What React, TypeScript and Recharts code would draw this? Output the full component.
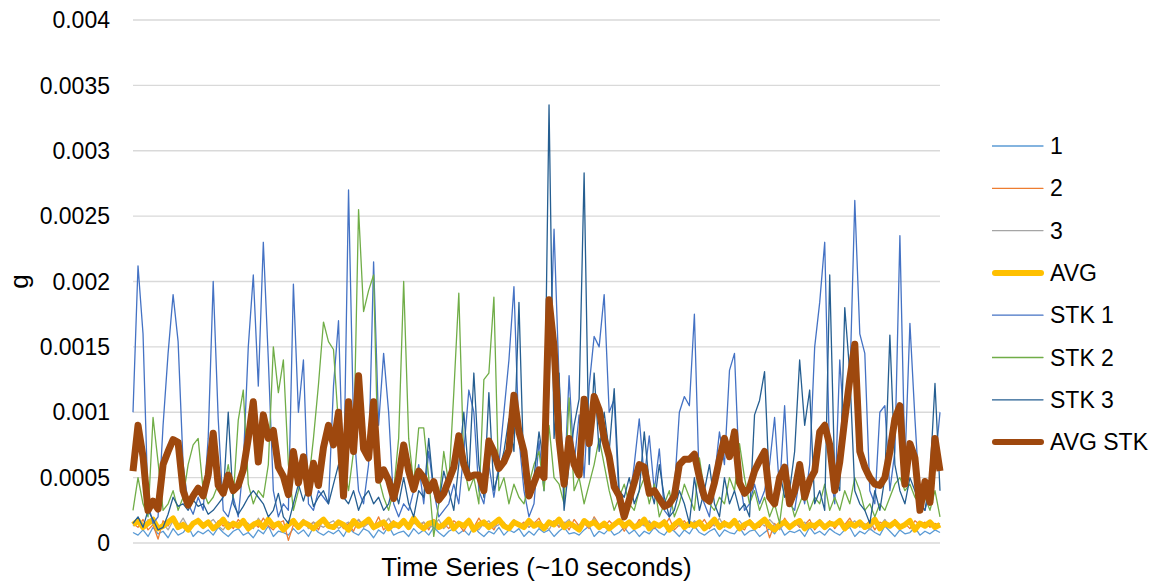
import React from "react";
import {
  LineChart,
  Line,
  XAxis,
  YAxis,
  CartesianGrid,
  Legend,
} from "recharts";

const FONT = '"Liberation Sans", Arial, sans-serif';

// sensor channels (g), one reading per sample, ~10 s window
const SERIES_1 = [
  0.00008, 0.00006, 0.0001, 0.00005, 0.00012, 0.00007, 0.00009, 0.00004, 0.00011, 0.00006, 0.00008, 0.00013, 0.00005, 0.00009, 0.00007, 0.0001, 0.00006, 0.00012, 0.00008, 0.00005,
  0.00009, 0.00011, 0.00006, 0.00008, 0.00004, 0.0001, 0.00007, 0.00013, 0.00005, 0.00009, 0.00008, 0.00006, 0.00011, 0.00007, 0.0001, 0.00005, 0.00012, 0.00008, 0.00006, 0.00009,
  0.00007, 0.0001, 0.00005, 0.00012, 0.00008, 0.00006, 0.00011, 0.00009, 0.00004, 0.0001, 0.00007, 0.00013, 0.00006, 0.00008, 0.00009, 0.00005, 0.00011, 0.00007, 0.0001, 0.00006,
  0.00012, 0.00008, 0.00005, 0.00009, 0.00011, 0.00007, 0.0001, 0.00006, 0.00013, 0.00008, 0.00005, 0.00009, 0.00007, 0.00012, 0.00006, 0.0001, 0.00008, 0.00011, 0.00005, 0.00009,
  0.00006, 0.00011, 0.00008, 0.0001, 0.00005, 0.00009, 0.00012, 0.00007, 0.00008, 0.00006, 0.0001, 0.00013, 0.00005, 0.00009, 0.00007, 0.00011, 0.00006, 0.00008, 0.00012, 0.00007,
  0.0001, 0.00005, 0.00009, 0.00007, 0.00012, 0.00008, 0.00006, 0.00011, 0.00009, 0.00005, 0.0001, 0.00007, 0.00013, 0.00008, 0.00006, 0.00009, 0.00011, 0.00005, 0.0001, 0.00008,
  0.00007, 0.00012, 0.00006, 0.00009, 0.0001, 0.00005, 0.00008, 0.00011, 0.00007, 0.00013, 0.00006, 0.00009, 0.00008, 0.0001, 0.00005, 0.00012, 0.00007, 0.00009, 0.00006, 0.00011,
  0.00008, 0.00006, 0.0001, 0.00012, 0.00005, 0.00009, 0.00007, 0.00011, 0.00008, 0.00006, 0.00013, 0.00009, 0.00005, 0.0001, 0.00007, 0.00008, 0.00012, 0.00006, 0.00009, 0.00007,
  0.0001, 0.00008,
];

const SERIES_2 = [
  0.00015, 0.00012, 0.00018, 0.0001, 0.00014, 0.00003, 0.00017, 0.00013, 0.0002, 0.00011, 0.00016, 0.00009, 0.00014, 0.00019, 0.00012, 0.00015, 0.0001, 0.00017, 0.00013, 0.00016,
  0.00011, 0.00018, 0.00014, 0.00009, 0.00016, 0.00012, 0.00019, 0.00013, 0.0001, 0.00015, 0.00017, 0.00002, 0.00014, 0.00011, 0.00018, 0.00013, 0.00016, 0.0001, 0.00019, 0.00012,
  0.00014, 0.00017, 0.00011, 0.00015, 0.00009, 0.00018, 0.00013, 0.00016, 0.00012, 0.0002, 0.0001, 0.00014, 0.00017, 0.00011, 0.00015, 0.00013, 0.00019, 0.00012, 0.00016, 0.0001,
  0.00018, 0.00013, 0.00015, 0.00011, 0.00017, 0.00014, 0.00009, 0.00016, 0.00012, 0.00019, 0.00013, 0.00015, 0.0001, 0.00018, 0.00014, 0.00011, 0.00017, 0.00013, 0.00016, 0.00012,
  0.00015, 0.00019, 0.00011, 0.00014, 0.00017, 0.00012, 0.00016, 0.0001, 0.00018, 0.00013, 0.00015, 0.00011, 0.0002, 0.00014, 0.00012, 0.00017, 0.00013, 0.00016, 0.00009, 0.00015,
  0.00012, 0.00018, 0.00014, 0.00016, 0.00011, 0.00015, 0.00013, 0.00019, 0.0001, 0.00014, 0.00017, 0.00012, 0.00016, 0.00013, 0.00018, 0.00011, 0.00015, 0.00014, 0.00017, 0.00012,
  0.00016, 0.00013, 0.0001, 0.00018, 0.00014, 0.00012, 0.00017, 0.00004, 0.00015, 0.00011, 0.00019, 0.00013, 0.00016, 0.00012, 0.00014, 0.00018, 0.0001, 0.00015, 0.00013, 0.00017,
  0.00011, 0.00016, 0.00014, 0.00019, 0.00012, 0.00015, 0.00013, 0.00017, 0.0001, 0.00016, 0.00014, 0.00012, 0.00018, 0.00013, 0.00015, 0.00011, 0.00017, 0.00014, 0.00016, 0.00012,
  0.00015, 0.00013,
];

const SERIES_3 = [
  0.00013, 0.00016, 0.00011, 0.00018, 0.00014, 0.00012, 0.00015, 0.0001, 0.00017, 0.00013, 0.00019, 0.00012, 0.00014, 0.00016, 0.00011, 0.00015, 0.00018, 0.00013, 0.0001, 0.00016,
  0.00014, 0.00012, 0.00017, 0.00015, 0.00011, 0.00019, 0.00013, 0.00016, 0.00012, 0.00014, 0.0001, 0.00017, 0.00015, 0.00013, 0.00018, 0.00011, 0.00016, 0.00014, 0.00012, 0.00015,
  0.00017, 0.00011, 0.00014, 0.00016, 0.00013, 0.00018, 0.00012, 0.00015, 0.0001, 0.00016, 0.00014, 0.00019, 0.00012, 0.00013, 0.00017, 0.00011, 0.00015, 0.00014, 0.00016, 0.00012,
  0.00013, 0.00018, 0.00011, 0.00015, 0.00014, 0.00016, 0.00012, 0.00019, 0.00013, 0.0001, 0.00015, 0.00017, 0.00012, 0.00014, 0.00016, 0.00011, 0.00018, 0.00013, 0.00015, 0.00012,
  0.00016, 0.00012, 0.00014, 0.0001, 0.00017, 0.00013, 0.00015, 0.00018, 0.00011, 0.00014, 0.00016, 0.00012, 0.00019, 0.00013, 0.00015, 0.00011, 0.00014, 0.00017, 0.00012, 0.00016,
  0.00011, 0.00015, 0.00013, 0.00017, 0.00012, 0.00014, 0.00018, 0.0001, 0.00016, 0.00013, 0.00015, 0.00012, 0.00017, 0.00014, 0.00011, 0.00016, 0.00013, 0.00019, 0.00012, 0.00015,
  0.00014, 0.00017, 0.00012, 0.00015, 0.00011, 0.00016, 0.00013, 0.00018, 0.00014, 0.0001, 0.00015, 0.00012, 0.00017, 0.00013, 0.00016, 0.00011, 0.00014, 0.00018, 0.00012, 0.00015,
  0.00013, 0.00016, 0.00011, 0.00014, 0.00017, 0.00012, 0.00015, 0.0001, 0.00016, 0.00013, 0.00018, 0.00012, 0.00014, 0.00011, 0.00015, 0.00017, 0.00013, 0.00016, 0.00012, 0.00014,
  0.00013, 0.00015,
];

const AVG = [
  0.00014, 0.00017, 0.00012, 0.00015, 0.00018, 0.00011, 0.00013, 0.00016, 0.00019, 0.00012, 0.00014, 0.0001, 0.00015, 0.00017, 0.00013, 0.00016, 0.00011, 0.00014, 0.00018, 0.00012,
  0.00015, 0.00013, 0.00017, 0.00011, 0.00014, 0.00016, 0.00012, 0.00018, 0.00013, 0.00015, 0.0001, 0.00014, 0.00017, 0.00012, 0.00016, 0.00014, 0.00011, 0.00015, 0.00018, 0.00013,
  0.00012, 0.00016, 0.00014, 0.0001, 0.00017, 0.00013, 0.00015, 0.00018, 0.00012, 0.00014, 0.00016, 0.00011, 0.00015, 0.00013, 0.00017, 0.00012, 0.00019, 0.00014, 0.00011, 0.00015,
  0.00016, 0.00012, 0.00014, 0.00018, 0.00011, 0.00015, 0.00013, 0.00017, 0.0001, 0.00014, 0.00016, 0.00012, 0.00015, 0.00018, 0.00013, 0.00011, 0.00016, 0.00014, 0.00012, 0.00017,
  0.00013, 0.00015, 0.00011, 0.00016, 0.00014, 0.00018, 0.00012, 0.00015, 0.00013, 0.0001, 0.00017, 0.00014, 0.00016, 0.00012, 0.00015, 0.00011, 0.00014, 0.00017, 0.00013, 0.00016,
  0.00012, 0.00014, 0.00018, 0.00011, 0.00015, 0.00013, 0.00016, 0.0001, 0.00014, 0.00017, 0.00012, 0.00015, 0.00013, 0.00016, 0.00011, 0.00014, 0.00018, 0.00012, 0.00015, 0.00013,
  0.00017, 0.00011, 0.00014, 0.00016, 0.00012, 0.00015, 0.00018, 0.00013, 0.0001, 0.00014, 0.00016, 0.00012, 0.00015, 0.00017, 0.00011, 0.00014, 0.00013, 0.00016, 0.00012, 0.00015,
  0.00014, 0.00017, 0.00011, 0.00015, 0.00013, 0.00016, 0.00012, 0.00014, 0.00018, 0.00011, 0.00015, 0.00013, 0.00016, 0.00012, 0.00014, 0.00017, 0.0001, 0.00015, 0.00013, 0.00016,
  0.00012, 0.00014,
];

const STK_1 = [
  0.001, 0.00212, 0.0016, 0.0003, 0.00015, 0.0002, 0.0009, 0.00145, 0.0019, 0.00154,
  0.0006, 0.0003, 0.00022, 0.00035, 0.00025, 0.0008, 0.002, 0.00095, 0.00025, 0.0002,
  0.00035, 0.0002, 0.0006, 0.0015, 0.00205, 0.0012, 0.0023, 0.0014, 0.0004, 0.0002,
  0.0003, 0.00025, 0.00198, 0.001, 0.0014, 0.0003, 0.00025, 0.0004, 0.00035, 0.0003,
  0.0012, 0.0017, 0.0004, 0.0027, 0.0009, 0.0004, 0.0003, 0.0006, 0.00215, 0.0009,
  0.00145, 0.001, 0.0003, 0.0002, 0.0003, 0.00025, 0.0004, 0.0006, 0.0003, 0.0007,
  0.0004, 0.0002, 0.00025, 0.0003, 0.00045, 0.0003, 0.0007, 0.00117, 0.001, 0.0004,
  0.0003, 0.0006, 0.00035, 0.0006, 0.001, 0.0014, 0.00196, 0.0008, 0.0004, 0.0002,
  0.0003, 0.00078, 0.0004, 0.0012, 0.0024, 0.00125, 0.0004, 0.00128, 0.0006, 0.00098,
  0.0005, 0.0012, 0.00158, 0.0015, 0.0019, 0.001, 0.0011, 0.0003, 0.0002, 0.0003,
  0.0006, 0.00095, 0.0005, 0.00082, 0.0004, 0.00072, 0.00025, 0.0002, 0.0004, 0.001,
  0.00112, 0.00105, 0.00175, 0.0004, 0.0003, 0.0002, 0.0005, 0.00085, 0.0006, 0.00132,
  0.00145, 0.0005, 0.00025, 0.0003, 0.00045, 0.0003, 0.0004, 0.0006, 0.00096, 0.0004,
  0.00105, 0.0003, 0.00025, 0.0005, 0.0003, 0.0006, 0.0015, 0.00184, 0.0023, 0.0006,
  0.0003, 0.0014, 0.0008, 0.0012, 0.00262, 0.0016, 0.00145, 0.0004, 0.0003, 0.001,
  0.00105, 0.0004, 0.0007, 0.00235, 0.0006, 0.00168, 0.00095, 0.0003, 0.00025, 0.0004,
  0.0006, 0.001,
];

const STK_2 = [
  0.00025, 0.0005, 0.0003, 0.0002, 0.00096, 0.00062, 0.00025, 0.0003, 0.0004, 0.00025,
  0.00035, 0.0006, 0.00075, 0.0008, 0.0004, 0.0003, 0.00035, 0.00045, 0.0004, 0.0006,
  0.00035, 0.00094, 0.00117, 0.00045, 0.0003, 0.0004, 0.00035, 0.0006, 0.0015, 0.00115,
  0.0014, 0.0006, 0.00025, 0.0004, 0.0006, 0.00045, 0.0008, 0.00121, 0.00169, 0.00154,
  0.00148, 0.0009, 0.0006, 0.0004, 0.0007, 0.00255, 0.00177, 0.00193, 0.00205, 0.0005,
  0.00035, 0.00025, 0.0004, 0.0008, 0.002, 0.0008, 0.00045, 0.00088, 0.00088, 0.0005,
  0.00005, 0.0003, 0.0007, 0.00045, 0.00115, 0.00191, 0.0006, 0.0004, 0.0005, 0.0003,
  0.00125, 0.0013, 0.00188, 0.0004, 0.0005, 0.0003, 0.00045, 0.00035, 0.0003, 0.00045,
  0.0006, 0.0007, 0.0004, 0.0009, 0.0005, 0.00045, 0.0003, 0.00111, 0.0004, 0.0005,
  0.0003, 0.00045, 0.0006, 0.0008, 0.0006, 0.0004, 0.00025, 0.00035, 0.00045, 0.0003,
  0.00025, 0.0004, 0.0005, 0.0003, 0.00045, 0.0002, 0.0003, 0.0004, 0.0002, 0.0003,
  0.00045, 0.00035, 0.00025, 0.00065, 0.0004, 0.0003, 0.00025, 0.00035, 0.0003, 0.0005,
  0.0004, 0.00076, 0.0005, 0.0003, 0.0004, 0.00025, 0.00035, 0.0002, 0.0003, 0.00015,
  0.00045, 0.00035, 0.0002, 0.0003, 0.0004, 0.00025, 0.00035, 0.0003, 0.00045, 0.00025,
  0.00035, 0.00025, 0.0004, 0.0003, 0.0005, 0.0004, 0.00025, 0.0003, 0.0002, 0.0003,
  0.00025, 0.00035, 0.00045, 0.0005, 0.0004, 0.00045, 0.00035, 0.0003, 0.00035, 0.00025,
  0.0004, 0.0002,
];

const STK_3 = [
  0.00015, 0.0002, 0.00012, 0.00025, 0.00018, 0.0001, 0.00012, 0.00022, 0.00035, 0.00028,
  0.0003, 0.00025, 0.00033, 0.00028, 0.0003, 0.00022, 0.00025, 0.0003, 0.00035, 0.001,
  0.0003, 0.00022, 0.00028, 0.00035, 0.0004, 0.00035, 0.0003, 0.0002, 0.00025, 0.00038,
  0.0002, 0.00015, 0.0003, 0.00045, 0.00032, 0.00045, 0.00028, 0.00035, 0.0004, 0.0003,
  0.00045, 0.0006, 0.00035, 0.0003, 0.0004, 0.00025, 0.00035, 0.0004, 0.0003, 0.00035,
  0.00025, 0.0003, 0.00045, 0.0003, 0.0005, 0.0003, 0.0002, 0.0004, 0.00035, 0.0008,
  0.0004, 0.0003, 0.00055, 0.0004, 0.00025, 0.0006, 0.001, 0.0005, 0.0013, 0.0006,
  0.00035, 0.00115, 0.0004, 0.00055, 0.0007, 0.00095, 0.0007, 0.00184, 0.0005, 0.00035,
  0.0005, 0.00085, 0.0006, 0.00335, 0.0008, 0.0013, 0.00025, 0.0006, 0.0009, 0.0011,
  0.00283, 0.0006, 0.0013, 0.0007, 0.001, 0.0007, 0.00118, 0.0004, 0.00035, 0.0005,
  0.0003, 0.0004, 0.00085, 0.00045, 0.0003, 0.0006, 0.00035, 0.0002, 0.00025, 0.0004,
  0.0003, 0.00015, 0.0005, 0.00025, 0.0004, 0.0006, 0.0003, 0.0002, 0.0005, 0.0003,
  0.0004, 0.00025, 0.0003, 0.0002, 0.00098, 0.00109, 0.00131, 0.0004, 0.0003, 0.00055,
  0.00035, 0.0004, 0.0007, 0.0014, 0.0009, 0.00117, 0.0003, 0.0004, 0.00025, 0.00205,
  0.0005, 0.0004, 0.0018, 0.0013, 0.0004, 0.0003, 0.00025, 0.00015, 0.0004, 0.00025,
  0.0005, 0.00159, 0.0006, 0.0004, 0.0003, 0.0005, 0.0004, 0.0003, 0.00025, 0.0005,
  0.00122, 0.0004,
];

const AVG_STK = [
  0.00055, 0.0009, 0.00066, 0.00025, 0.00032, 0.00026, 0.0006, 0.0007, 0.00079, 0.00077,
  0.0004, 0.00029, 0.00036, 0.00042, 0.00036, 0.00052, 0.00084, 0.00044, 0.00038, 0.00052,
  0.0004, 0.00044, 0.00056, 0.0008, 0.00108, 0.00062, 0.00098, 0.0008, 0.00086, 0.00058,
  0.00051, 0.00037, 0.0007, 0.00046, 0.00066, 0.00038, 0.00061, 0.00044, 0.00073, 0.0009,
  0.00075, 0.001, 0.00036, 0.00108, 0.0007, 0.00128, 0.00072, 0.00065, 0.00108, 0.00048,
  0.00056, 0.00048, 0.00034, 0.0005, 0.00075, 0.00055, 0.00041, 0.00055, 0.0005, 0.0004,
  0.00047, 0.00033, 0.00038, 0.00048, 0.00058, 0.00082, 0.0006, 0.0005, 0.00052, 0.00052,
  0.0004, 0.00078, 0.0007, 0.00057, 0.00062, 0.00071, 0.00113, 0.00085, 0.0007, 0.00036,
  0.00046, 0.00056, 0.0005, 0.00186, 0.0015, 0.00079, 0.00045, 0.0008, 0.0006, 0.00052,
  0.0011, 0.00076, 0.00112, 0.00102, 0.0008, 0.00066, 0.00043, 0.00036, 0.0002, 0.00033,
  0.00046, 0.0006, 0.00058, 0.00038, 0.0004, 0.00034, 0.00028, 0.0003, 0.00036, 0.0006,
  0.00064, 0.00064, 0.00068, 0.0005, 0.00035, 0.00032, 0.00046, 0.00064, 0.0008, 0.00066,
  0.00085, 0.00046, 0.00038, 0.00042, 0.00055, 0.00063, 0.0007, 0.00035, 0.0003, 0.0005,
  0.00058, 0.0003, 0.0004, 0.0006, 0.00035, 0.00048, 0.00055, 0.00085, 0.0009, 0.00075,
  0.0004, 0.00062, 0.00095, 0.00125, 0.00152, 0.0007, 0.00058, 0.0005, 0.00045, 0.00044,
  0.0005, 0.0007, 0.00095, 0.00105, 0.00045, 0.00076, 0.00065, 0.00025, 0.00047, 0.00031,
  0.0008, 0.00055,
];

const Y_TICKS = [0, 0.0005, 0.001, 0.0015, 0.002, 0.0025, 0.003, 0.0035, 0.004];

const SERIES = [
  { key: "s1", name: "1", color: "#5B9BD5", width: 1.3 },
  { key: "s2", name: "2", color: "#ED7D31", width: 1.3 },
  { key: "s3", name: "3", color: "#A5A5A5", width: 1.3 },
  { key: "avg", name: "AVG", color: "#FFC000", width: 5.5 },
  { key: "stk1", name: "STK 1", color: "#4472C4", width: 1.3 },
  { key: "stk2", name: "STK 2", color: "#70AD47", width: 1.3 },
  { key: "stk3", name: "STK 3", color: "#255E91", width: 1.3 },
  { key: "avgStk", name: "AVG STK", color: "#9E480E", width: 7 },
];

const data = AVG_STK.map((_, i) => ({
  t: i + 1,
  s1: SERIES_1[i],
  s2: SERIES_2[i],
  s3: SERIES_3[i],
  avg: AVG[i],
  stk1: STK_1[i],
  stk2: STK_2[i],
  stk3: STK_3[i],
  avgStk: AVG_STK[i],
}));

function LegendBox() {
  return (
    <svg width={175} height={345} style={{ display: "block" }}>
      {SERIES.map((s, i) => {
        const y = 12 + i * 42.3;
        const thick = s.width > 2;
        return (
          <g key={s.key}>
            <line
              x1={thick ? 3 : 0}
              x2={thick ? 49 : 51}
              y1={y}
              y2={y}
              stroke={s.color}
              strokeWidth={thick ? 6 : 1.3}
              strokeLinecap="round"
            />
            <text
              x={58}
              y={y}
              dominantBaseline="central"
              fontFamily={FONT}
              fontSize={23}
              fill="#000"
            >
              {s.name}
            </text>
          </g>
        );
      })}
    </svg>
  );
}

function YTitle({ viewBox }: any) {
  const cx = 11;
  const cy = viewBox.y + viewBox.height / 2;
  return (
    <text
      x={cx}
      y={cy}
      transform={`rotate(-90, ${cx}, ${cy})`}
      textAnchor="middle"
      dominantBaseline="central"
      fontFamily={FONT}
      fontSize={26}
      fill="#000"
    >
      g
    </text>
  );
}

export default function App() {
  return (
    <div style={{ width: 1150, height: 574, fontFamily: FONT }}>
      <LineChart
        width={1150}
        height={574}
        data={data}
        margin={{ top: 12, right: 218, bottom: 0, left: 0 }}
      >
        <CartesianGrid vertical={false} stroke="#d9d9d9" strokeWidth={1.3} />
        <XAxis
          dataKey="t"
          height={39}
          tick={false}
          tickLine={false}
          axisLine={false}
          label={{
            value: "Time Series (~10 seconds)",
            position: "insideBottom",
            offset: 6,
            style: { fontFamily: FONT, fontSize: 26, fill: "#000" },
          }}
        />
        <YAxis
          width={125}
          domain={[0, 0.004]}
          ticks={Y_TICKS}
          interval={0}
          tickLine={false}
          axisLine={false}
          tickSize={0}
          tickMargin={23}
          tick={{ fontFamily: FONT, fontSize: 23, fill: "#000" }}
          label={{ content: YTitle }}
        />
        <Legend
          layout="vertical"
          align="center"
          verticalAlign="middle"
          wrapperStyle={{ left: 984, top: 126, width: 175, height: 345 }}
          content={() => <LegendBox />}
        />
        {SERIES.map((s) => (
          <Line
            key={s.key}
            dataKey={s.key}
            name={s.name}
            type="linear"
            stroke={s.color}
            strokeWidth={s.width}
            strokeLinejoin="round"
            dot={false}
            activeDot={false}
            isAnimationActive={false}
          />
        ))}
      </LineChart>
    </div>
  );
}
